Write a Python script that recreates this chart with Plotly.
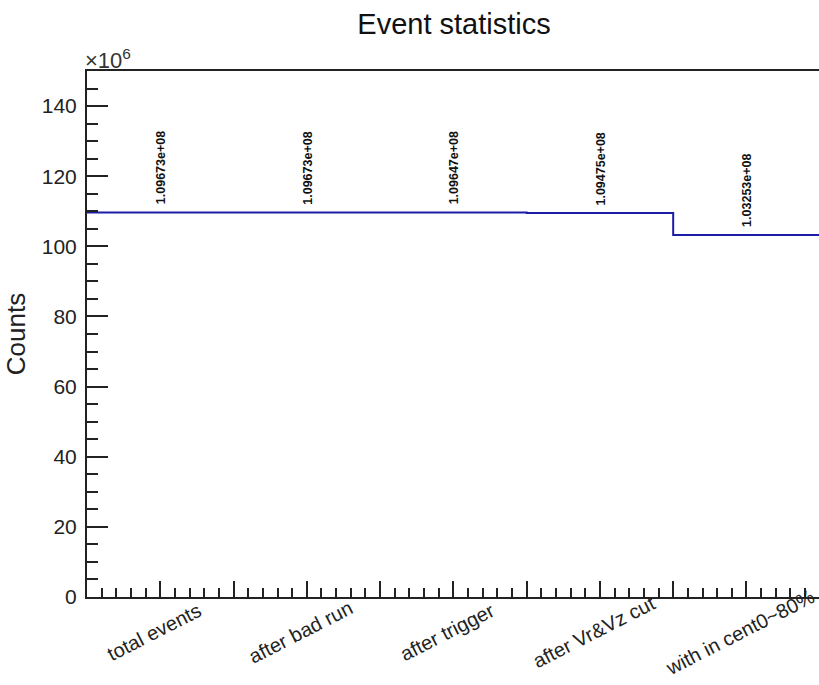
import plotly.graph_objects as go

# Event selection steps and surviving event counts
categories = ["total events", "after bad run", "after trigger",
              "after Vr&Vz cut", "with in cent0~80%"]
counts = [1.09673e8, 1.09673e8, 1.09647e8, 1.09475e8, 1.03253e8]
y_ticks = [0, 20, 40, 60, 80, 100, 120, 140]
scale = 1e6

font_family = "Liberation Sans, Arial, sans-serif"
line_color = "#1c1ca6"

n = len(categories)
edges = list(range(n + 1))
centers = [i + 0.5 for i in range(n)]
scaled = [c / scale for c in counts]

fig = go.Figure()

# Histogram outline drawn as a step line over the bin edges
fig.add_trace(go.Scatter(
    x=edges,
    y=scaled + [scaled[-1]],
    mode="lines",
    line=dict(color=line_color, width=2, shape="hv"),
    hoverinfo="skip",
    showlegend=False,
))

annotations = []
# Bin content printed vertically above each bin
for xc, c, ys in zip(centers, counts, scaled):
    annotations.append(dict(
        x=xc, y=ys, xref="x", yref="y",
        text=f"{c:.5e}",
        textangle=-90,
        showarrow=False,
        xanchor="center", yanchor="bottom",
        yshift=6, xshift=1,
        font=dict(family=font_family, size=12.5, color="#111", weight="bold"),
    ))

# Slanted bin labels under the axis
for xc, label in zip(centers, categories):
    annotations.append(dict(
        x=xc, y=0, xref="x", yref="paper",
        text=label,
        textangle=-27,
        showarrow=False,
        xanchor="center", yanchor="middle",
        xshift=-6, yshift=-35,
        font=dict(family=font_family, size=20, color="#222"),
    ))

# Axis multiplier
annotations.append(dict(
    x=0, y=1, xref="paper", yref="paper",
    text="×10<sup>6</sup>",
    showarrow=False,
    xanchor="left", yanchor="bottom",
    xshift=-4, yshift=-4,
    font=dict(family=font_family, size=22, color="#333"),
))

fig.update_layout(
    width=819, height=685,
    margin=dict(l=87, r=0, t=71, b=88),
    paper_bgcolor="white", plot_bgcolor="white",
    title=dict(
        text="Event statistics",
        x=454 / 819, xref="container", xanchor="center",
        y=1 - 24 / 685, yref="container", yanchor="middle",
        font=dict(family=font_family, size=29, color="#111"),
    ),
    annotations=annotations,
    showlegend=False,
)

fig.update_xaxes(
    range=[0, 4.995],
    tickmode="linear", tick0=0, dtick=0.5,
    ticks="inside", ticklen=16, tickwidth=1.5, tickcolor="#222",
    minor=dict(tickmode="linear", tick0=0, dtick=0.1, ticks="inside",
               ticklen=9, tickwidth=1.5, tickcolor="#222"),
    showticklabels=False,
    showgrid=False, zeroline=False,
    showline=True, linecolor="#222", linewidth=2, mirror=True,
)

fig.update_yaxes(
    range=[0, 150],
    tickmode="array", tickvals=y_ticks,
    ticktext=[str(v) for v in y_ticks],
    ticks="inside", ticklen=21, tickwidth=1.5, tickcolor="#222",
    minor=dict(tickmode="linear", tick0=0, dtick=5, ticks="inside",
               ticklen=11, tickwidth=1.5, tickcolor="#222"),
    tickfont=dict(family=font_family, size=21, color="#222"),
    ticklabelstandoff=4,
    showgrid=False, zeroline=False,
    showline=True, linecolor="#222", linewidth=2, mirror=False,
    title=dict(text="Counts", standoff=9,
               font=dict(family=font_family, size=26, color="#222")),
)

fig.write_html("out.html")
